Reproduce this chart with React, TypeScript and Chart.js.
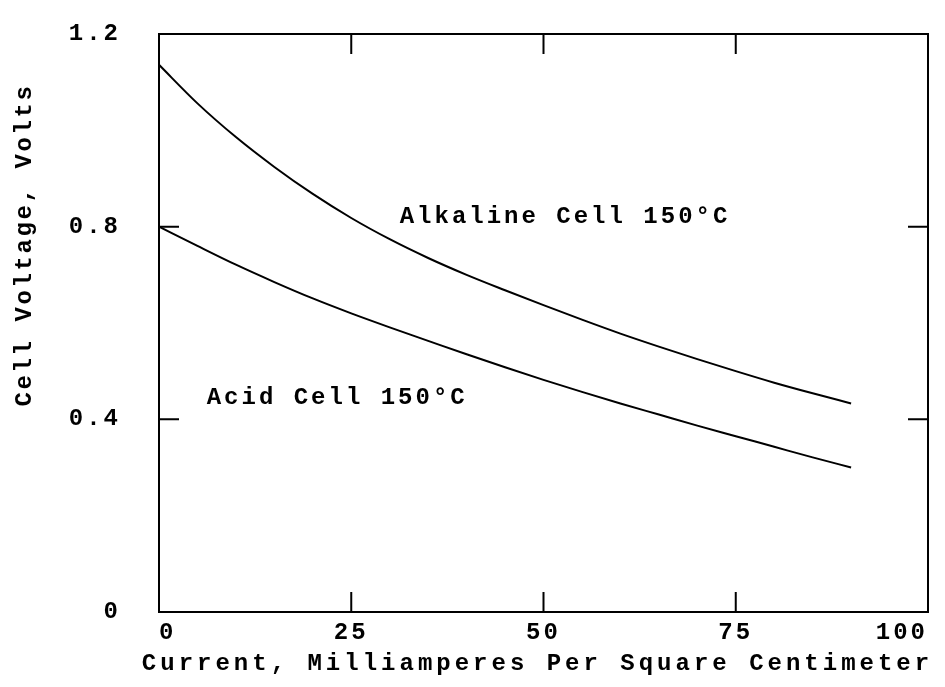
import React, { useEffect, useRef } from 'react';
import { Chart, registerables } from 'chart.js';

Chart.register(...registerables);

// Current density, mA/cm^2
const current = [0, 5, 10, 15, 20, 25, 30, 35, 40, 45, 50, 55, 60, 65, 70, 75, 80, 85, 90];
// Cell voltage, V
const alkaline = [1.136, 1.056, 0.986, 0.924, 0.868, 0.818, 0.774, 0.735, 0.7, 0.668, 0.637, 0.607, 0.578, 0.551, 0.525, 0.5, 0.476, 0.454, 0.433];
const acid = [0.8, 0.76, 0.721, 0.685, 0.651, 0.62, 0.591, 0.563, 0.535, 0.508, 0.482, 0.457, 0.433, 0.41, 0.387, 0.365, 0.343, 0.321, 0.3];

const xTicks = [0, 25, 50, 75, 100];
const yTicks = [0, 0.4, 0.8, 1.2];

const curveLabels = ['Alkaline Cell 150°C', 'Acid Cell 150°C'];
const curveLabelX = [31.3, 6.2];
const curveLabelY = [0.82, 0.444];

const xTitle = 'Current, Milliamperes Per Square Centimeter';
const yTitle = 'Cell Voltage, Volts';

const FONT_FAMILY = '"Liberation Mono", monospace';
const FONT_SIZE = 24;
const WEIGHT = 'bold';
const SPACING = '3px';
const INK = '#000';

const spacingPlugin = {
  id: 'spacing',
  beforeLayout(chart: any) {
    chart.ctx.letterSpacing = SPACING;
  },
  beforeDraw(chart: any) {
    chart.ctx.letterSpacing = SPACING;
  },
};

const framePlugin = {
  id: 'frame',
  afterDraw(chart: any) {
    const { ctx, chartArea } = chart;
    const xs = chart.scales.x;
    const ys = chart.scales.y;
    const { left, right, top, bottom } = chartArea;
    ctx.save();
    ctx.strokeStyle = INK;
    ctx.lineWidth = 2;
    ctx.strokeRect(left, top, right - left, bottom - top);
    // inward tick marks
    const tickLen = 20;
    ctx.beginPath();
    xTicks.slice(1, -1).forEach((v) => {
      const px = xs.getPixelForValue(v);
      ctx.moveTo(px, bottom);
      ctx.lineTo(px, bottom - tickLen);
      ctx.moveTo(px, top);
      ctx.lineTo(px, top + tickLen);
    });
    yTicks.slice(1, -1).forEach((v) => {
      const py = ys.getPixelForValue(v);
      ctx.moveTo(left, py);
      ctx.lineTo(left + tickLen, py);
      ctx.moveTo(right, py);
      ctx.lineTo(right - tickLen, py);
    });
    ctx.stroke();

    ctx.fillStyle = INK;
    ctx.font = `${WEIGHT} ${FONT_SIZE}px ${FONT_FAMILY}`;
    ctx.textBaseline = 'middle';

    // curve labels
    ctx.letterSpacing = SPACING;
    ctx.textAlign = 'left';
    curveLabels.forEach((t, i) => {
      ctx.fillText(t, xs.getPixelForValue(curveLabelX[i]), ys.getPixelForValue(curveLabelY[i]));
    });

    // x-axis title
    ctx.letterSpacing = '4px';
    ctx.textAlign = 'center';
    ctx.fillText(xTitle, (left + right) / 2 - 6, 664);

    // y-axis title
    ctx.save();
    ctx.letterSpacing = '2.6px';
    ctx.translate(25, 245);
    ctx.rotate(-Math.PI / 2);
    ctx.textAlign = 'center';
    ctx.fillText(yTitle, 0, 0);
    ctx.restore();
    ctx.restore();
  },
};

export default function App() {
  const ref = useRef<HTMLCanvasElement | null>(null);

  useEffect(() => {
    if (!ref.current) return;
    const font = { family: FONT_FAMILY, size: FONT_SIZE, weight: WEIGHT as any };
    const chart = new Chart(ref.current, {
      type: 'line',
      data: {
        datasets: [
          {
            label: 'Alkaline Cell 150°C',
            data: current.map((x, i) => ({ x, y: alkaline[i] })),
            borderColor: INK,
            borderWidth: 2,
            pointRadius: 0,
            cubicInterpolationMode: 'monotone',
            fill: false,
          },
          {
            label: 'Acid Cell 150°C',
            data: current.map((x, i) => ({ x, y: acid[i] })),
            borderColor: INK,
            borderWidth: 2,
            pointRadius: 0,
            cubicInterpolationMode: 'monotone',
            fill: false,
          },
        ],
      },
      options: {
        animation: false,
        responsive: true,
        maintainAspectRatio: false,
        layout: { padding: { left: 0, top: 34, right: 17, bottom: 0 } },
        plugins: {
          legend: { display: false },
          tooltip: { enabled: false },
        },
        scales: {
          x: {
            type: 'linear',
            min: 0,
            max: 100,
            afterBuildTicks: (s: any) => {
              s.ticks = xTicks.map((value) => ({ value }));
            },
            afterFit: (s: any) => {
              s.height = 75;
              s.paddingLeft = 0;
              s.paddingRight = 0;
            },
            grid: { display: false, drawTicks: false },
            border: { display: false },
            ticks: {
              color: INK,
              font,
              padding: 7,
              align: 'inner',
              maxRotation: 0,
              autoSkip: false,
            },
            title: { display: false },
          },
          y: {
            type: 'linear',
            min: 0,
            max: 1.2,
            afterBuildTicks: (s: any) => {
              s.ticks = yTicks.map((value) => ({ value }));
            },
            afterFit: (s: any) => {
              s.width = 159;
              s.paddingTop = 0;
              s.paddingBottom = 0;
            },
            grid: { display: false, drawTicks: false },
            border: { display: false },
            ticks: {
              color: INK,
              font,
              padding: 38,
              callback: (v: any) => (v === 0 ? '0' : Number(v).toFixed(1)),
            },
          },
        },
      },
      plugins: [spacingPlugin, framePlugin],
    });
    return () => chart.destroy();
  }, []);

  return (
    <div style={{ position: 'fixed', left: 0, top: 0, width: 945, height: 687, background: '#fff' }}>
      <canvas ref={ref} />
    </div>
  );
}
